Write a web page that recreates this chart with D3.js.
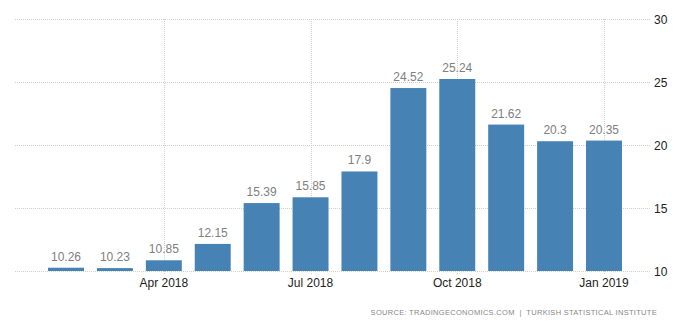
<!DOCTYPE html>
<html><head><meta charset="utf-8">
<script src="https://cdn.jsdelivr.net/npm/d3@7"></script>
<style>body{margin:0;background:#fff}svg{display:block}</style>
</head><body><svg id="c" width="700" height="326"></svg>
<script>
const months = ["Feb 2018","Mar 2018","Apr 2018","May 2018","Jun 2018","Jul 2018","Aug 2018","Sep 2018","Oct 2018","Nov 2018","Dec 2018","Jan 2019"];
const values = [10.26,10.23,10.85,12.15,15.39,15.85,17.9,24.52,25.24,21.62,20.3,20.35];
const valueLabels = ["10.26","10.23","10.85","12.15","15.39","15.85","17.9","24.52","25.24","21.62","20.3","20.35"];
const xTickLabels = ["Apr 2018","Jul 2018","Oct 2018","Jan 2019"];
const yTicks = [10,15,20,25,30];
const source = "SOURCE: TRADINGECONOMICS.COM  |  TURKISH STATISTICAL INSTITUTE";

(function () {
const svg = d3.select("#c");
const pl = 15, pr = 650, pt = 19, pb = 271;
const x = d3.scalePoint().domain(months).range([66, 604]);
const bw = x.step() * 0.735;
const y = d3.scaleLinear().domain([10, 30]).range([pb, pt]);
const font = "'Liberation Sans', Arial, sans-serif";

svg.append("g").selectAll("line").data(yTicks).join("line")
  .attr("x1", pl).attr("x2", pr)
  .attr("y1", d => Math.round(y(d)) + 0.5).attr("y2", d => Math.round(y(d)) + 0.5)
  .attr("stroke", "#d0d0d0").attr("stroke-width", 1).attr("stroke-dasharray", "1,1");
svg.append("g").selectAll("line").data(xTickLabels).join("line")
  .attr("x1", d => Math.round(x(d)) + 0.5).attr("x2", d => Math.round(x(d)) + 0.5)
  .attr("y1", pt).attr("y2", pb + 4)
  .attr("stroke", "#d0d0d0").attr("stroke-width", 1).attr("stroke-dasharray", "1,1");

svg.append("g").selectAll("rect").data(values).join("rect")
  .attr("x", (d, i) => x(months[i]) - bw / 2)
  .attr("width", bw)
  .attr("y", d => y(d))
  .attr("height", d => y(10) - y(d))
  .attr("fill", "#4682b4");

svg.append("g").selectAll("text").data(values).join("text")
  .attr("x", (d, i) => x(months[i]))
  .attr("y", d => y(d) - 7)
  .attr("text-anchor", "middle")
  .attr("font-family", font).attr("font-size", 12)
  .attr("fill", "#808080")
  .text((d, i) => valueLabels[i]);

svg.append("g").selectAll("text").data(yTicks).join("text")
  .attr("x", 654).attr("y", d => y(d) + 4.5)
  .attr("font-family", font).attr("font-size", 12)
  .attr("fill", "#222")
  .text(d => d);

svg.append("g").selectAll("text").data(xTickLabels).join("text")
  .attr("x", d => x(d)).attr("y", 287)
  .attr("text-anchor", "middle")
  .attr("font-family", font).attr("font-size", 12)
  .attr("fill", "#222")
  .text(d => d);

svg.append("text")
  .attr("x", 657).attr("y", 315)
  .attr("text-anchor", "end")
  .attr("font-family", font).attr("font-size", 7.5)
  .attr("letter-spacing", 0.3)
  .attr("fill", "#888")
  .style("white-space", "pre")
  .text(source);
})();
</script></body></html>
